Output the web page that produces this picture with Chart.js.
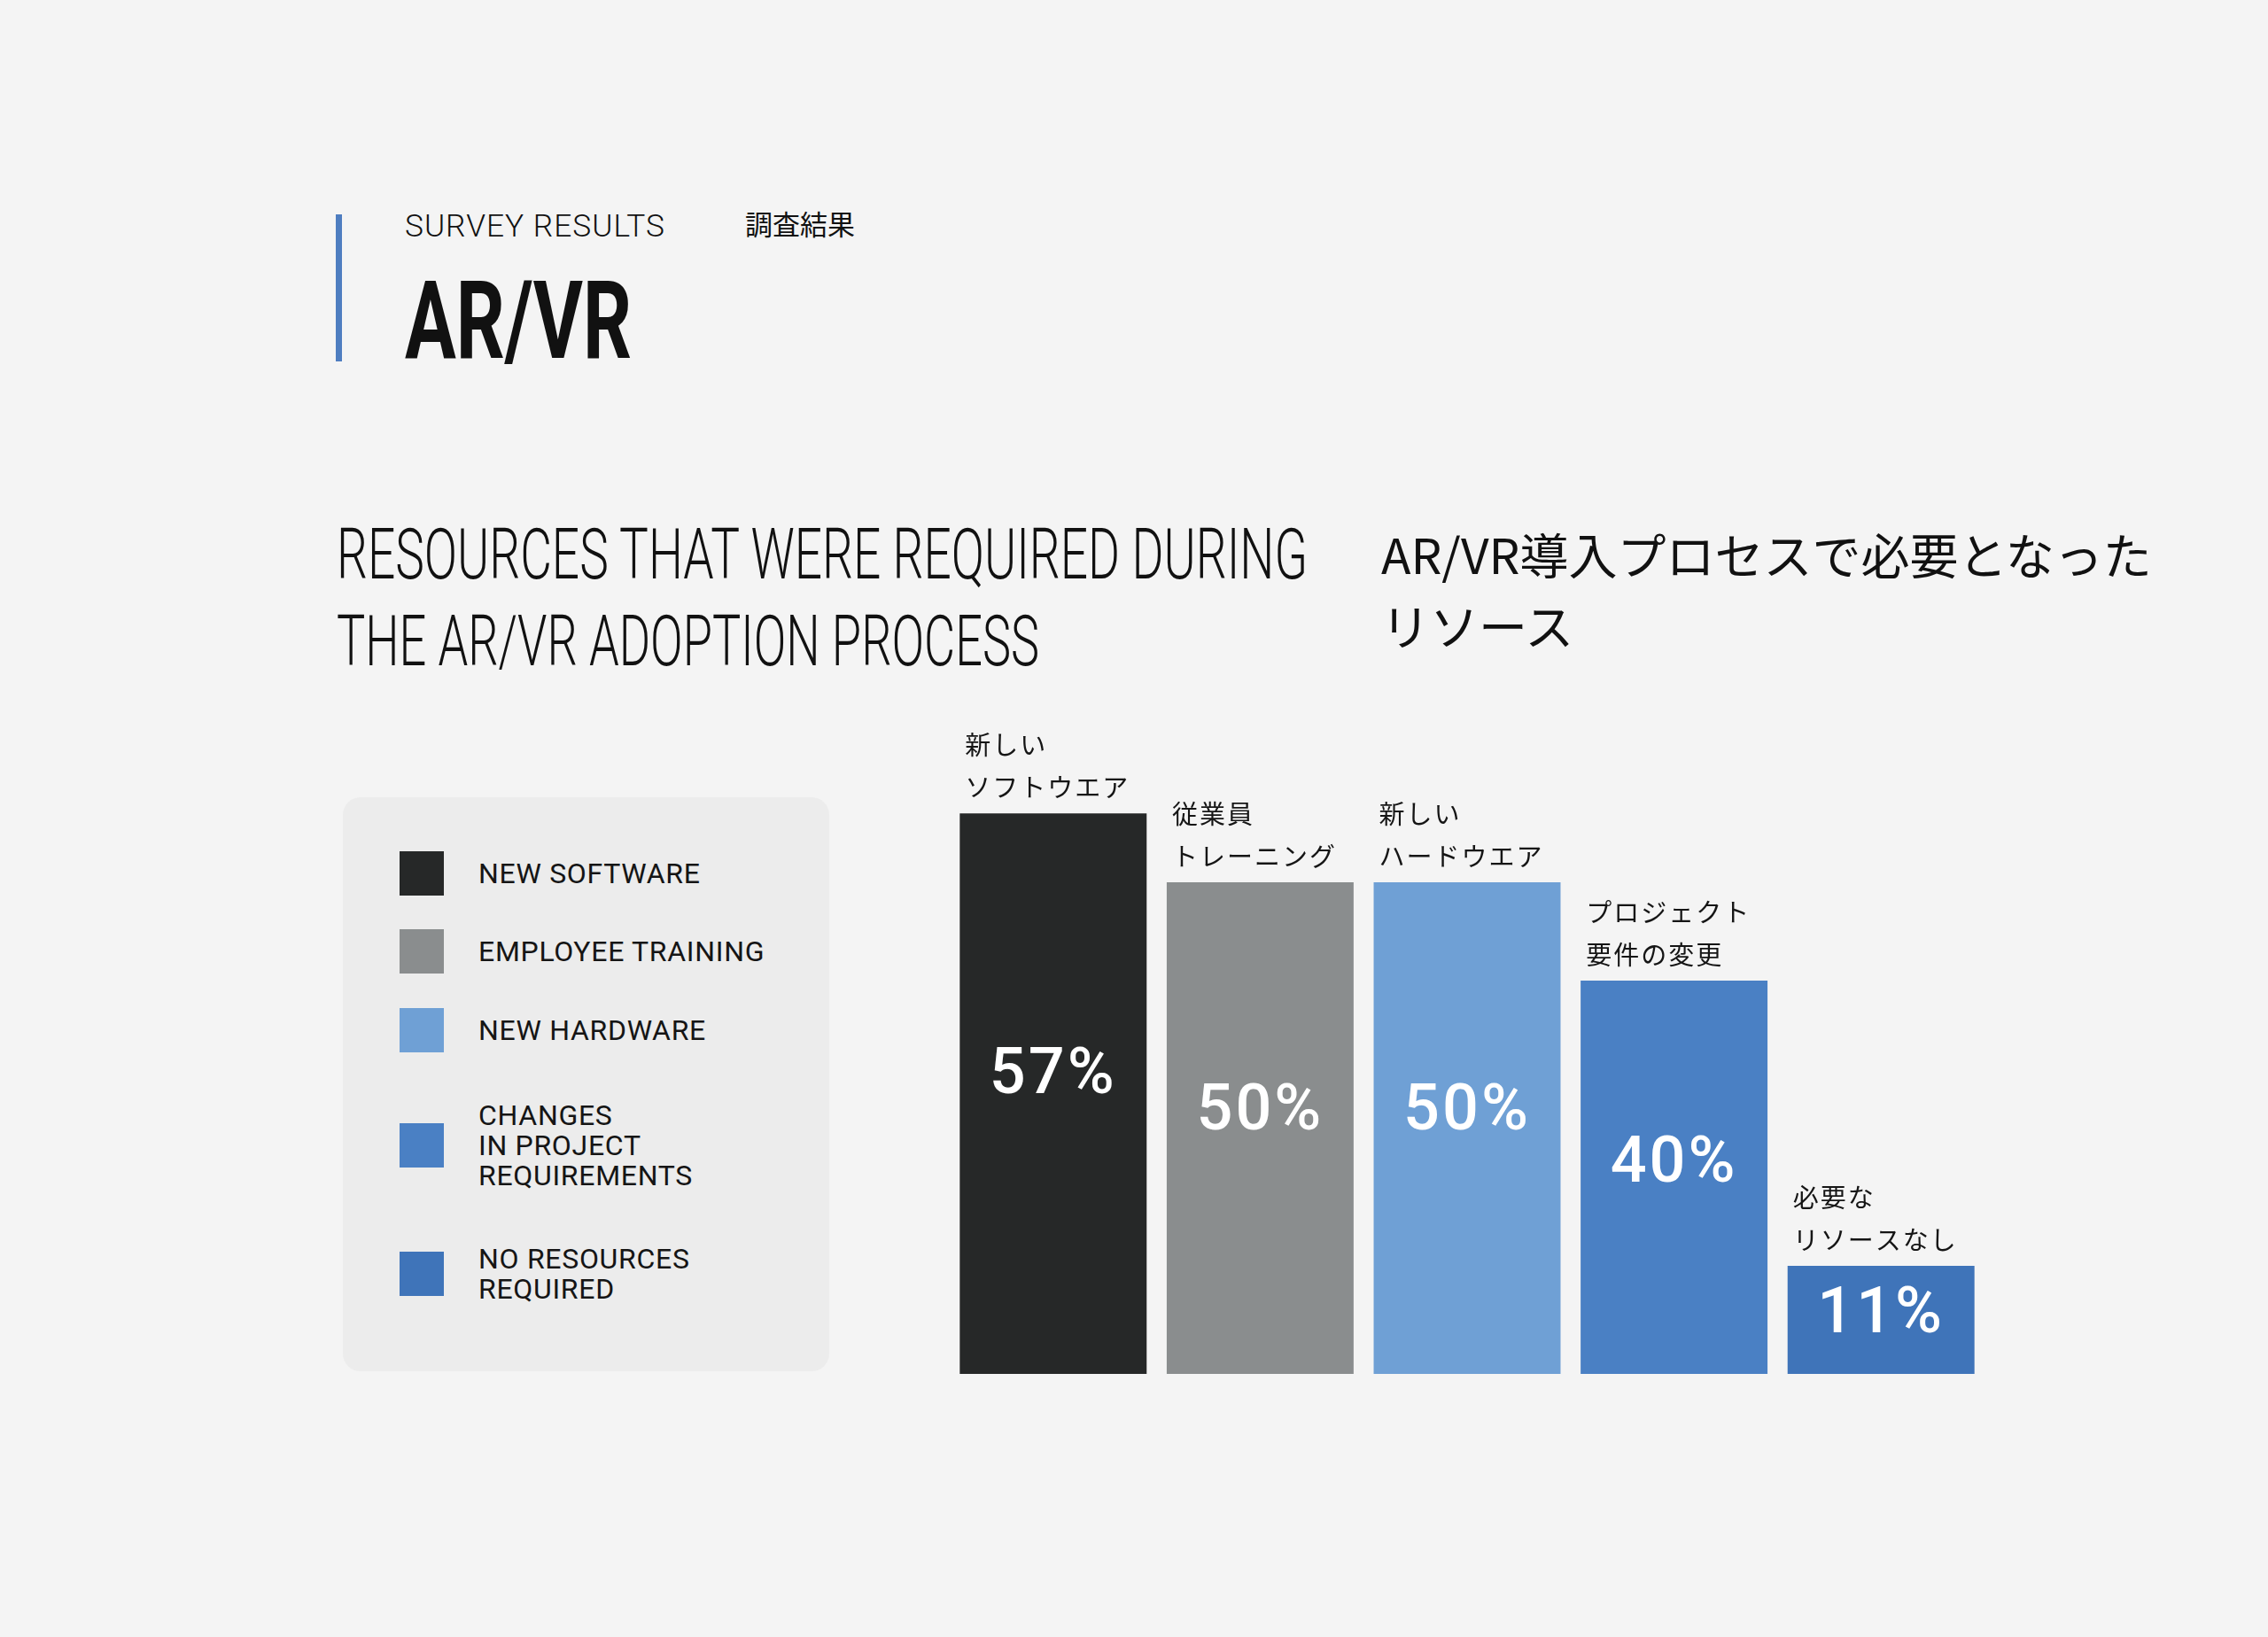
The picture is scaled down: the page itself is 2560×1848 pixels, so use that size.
<!DOCTYPE html>
<html>
<head>
<meta charset="utf-8">
<script src="https://cdn.jsdelivr.net/npm/chart.js@4.4.1/dist/chart.umd.min.js"></script>
<style>
  html, body { margin: 0; padding: 0; }
  body { width: 2560px; height: 1848px; background: #f4f4f4; position: relative; overflow: hidden; font-family: Roboto, "Noto Sans", sans-serif; color: #111; }
  .abs { position: absolute; white-space: nowrap; }
  .fit { display: inline-block; transform-origin: left top; }
  #accent { left: 379px; top: 242px; width: 7px; height: 166px; background: #4e7dc0; }
  #kicker { left: 457px; top: 238px; font-size: 35px; line-height: 35px; font-weight: 300; letter-spacing: 1px; }
  #kickerJa { left: 841px; top: 236px; font-family: "Noto Sans CJK JP"; font-size: 31px; line-height: 31px; }
  #big { left: 457px; top: 302px; font-size: 122px; line-height: 122px; font-weight: 700; }
  #headEn { left: 380px; top: 577px; font-size: 80px; line-height: 98px; font-weight: 300; }
  #headJa { left: 1559px; top: 584px; font-family: "Noto Sans CJK JP"; font-size: 55px; line-height: 80px; }
  #legend { left: 387px; top: 900px; width: 549px; height: 648px; background: #ececec; border-radius: 20px; }
  .row { position: absolute; left: 64px; display: flex; align-items: center; transform: translateY(-50%); }
  .sw { width: 50px; height: 50px; flex: none; }
  .lab { margin-left: 39px; font-size: 32px; line-height: 34px; letter-spacing: 0.7px; white-space: pre; color: #151515; }
  #wrap { position: absolute; left: 1040px; top: 760px; width: 1240px; height: 820px; }
</style>
</head>
<body>
<div id="accent" class="abs"></div>
<div id="kicker" class="abs"><span class="fit" data-w="294">SURVEY RESULTS</span></div>
<div id="kickerJa" class="abs">調査結果</div>
<div id="big" class="abs"><span class="fit" data-w="256">AR/VR</span></div>
<div id="headEn" class="abs">
  <span class="fit" data-w="1096">RESOURCES THAT WERE REQUIRED DURING</span><br>
  <span class="fit" data-w="793">THE AR/VR ADOPTION PROCESS</span>
</div>
<div id="headJa" class="abs">AR/VR導入プロセスで必要となった<br>リソース</div>
<div id="legend" class="abs"></div>
<div id="wrap"><canvas id="barChart"></canvas></div>

<script>
// survey data
const categoriesJa = [
    ['新しい', 'ソフトウエア'],
    ['従業員', 'トレーニング'],
    ['新しい', 'ハードウエア'],
    ['プロジェクト', '要件の変更'],
    ['必要な', 'リソースなし']
];
const categoriesEn = [
    'NEW SOFTWARE',
    'EMPLOYEE TRAINING',
    'NEW HARDWARE',
    'CHANGES\nIN PROJECT\nREQUIREMENTS',
    'NO RESOURCES\nREQUIRED'
];
const percentages = [57, 50, 50, 40, 11];
const barColors = ['#262828', '#8a8d8e', '#6fa0d5', '#4a80c4', '#3f74b9'];

// squeeze headline text to condensed widths
document.querySelectorAll('.fit').forEach(function(el) {
    const w = el.getBoundingClientRect().width;
    el.style.transform = 'scaleX(' + (parseFloat(el.dataset.w) / w) + ')';
});

// legend panel
const rowCenters = [86, 174, 263, 393, 538];
const legendEl = document.getElementById('legend');
categoriesEn.forEach(function(label, i) {
    const row = document.createElement('div');
    row.className = 'row';
    row.style.top = rowCenters[i] + 'px';
    row.innerHTML = '<div class="sw" style="background:' + barColors[i] + '"></div><div class="lab"></div>';
    row.querySelector('.lab').textContent = label;
    legendEl.appendChild(row);
});

const barLabels = {
    id: 'barLabels',
    afterDatasetsDraw(chart) {
        const ctx = chart.ctx;
        const meta = chart.getDatasetMeta(0);
        ctx.save();
        meta.data.forEach(function(bar, i) {
            const props = bar.getProps(['x', 'y', 'base', 'width'], true);
            // value inside bar, a bit above the middle
            ctx.fillStyle = '#ffffff';
            ctx.font = '500 72px Roboto';
            ctx.letterSpacing = '3px';
            ctx.textAlign = 'center';
            ctx.textBaseline = 'middle';
            ctx.fillText(chart.data.datasets[0].data[i] + '%', props.x, props.y + (props.base - props.y) * 0.47);
            // japanese caption above bar
            const lines = chart.data.labels[i];
            ctx.fillStyle = '#151515';
            ctx.font = '400 29px "Noto Sans CJK JP"';
            ctx.letterSpacing = '2px';
            ctx.textAlign = 'left';
            const left = props.x - props.width / 2 + 6;
            ctx.fillText(lines[0], left, props.y - 77);
            ctx.fillText(lines[1], left, props.y - 29);
        });
        ctx.restore();
    }
};

new Chart(document.getElementById('barChart'), {
    type: 'bar',
    data: {
        labels: categoriesJa,
        datasets: [{
            data: percentages,
            backgroundColor: barColors,
            borderWidth: 0,
            categoryPercentage: 1,
            barPercentage: 0.903
        }]
    },
    options: {
        responsive: true,
        maintainAspectRatio: false,
        animation: false,
        layout: { padding: { left: 32, right: 40, top: 125, bottom: 29 } },
        plugins: {
            legend: { display: false },
            tooltip: { enabled: false }
        },
        scales: {
            x: { display: false },
            y: { display: false, min: 0, max: 60 }
        }
    },
    plugins: [barLabels]
});
</script>
</body>
</html>
